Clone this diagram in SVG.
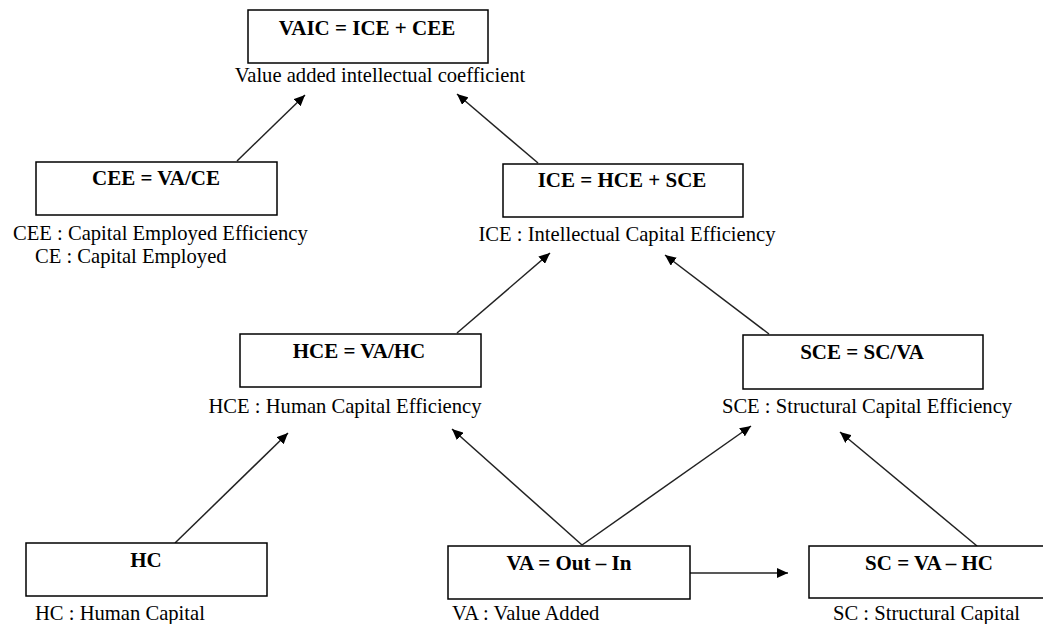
<svg xmlns="http://www.w3.org/2000/svg" width="1043" height="624" viewBox="0 0 1043 624">
<style>
.box{fill:#fff;stroke:#000;stroke-width:1.5}
.lbl{font-family:"Liberation Serif","Times New Roman",serif;font-size:21px;font-weight:bold;fill:#000;text-anchor:middle}
.sub{font-family:"Liberation Serif","Times New Roman",serif;font-size:20.6px;fill:#000}
.mid{text-anchor:middle}
.edge{stroke:#222;stroke-width:1.5;fill:none;marker-end:url(#arr)}
</style>
<defs>
<marker id="arr" markerUnits="userSpaceOnUse" markerWidth="12" markerHeight="10" refX="11" refY="5" orient="auto">
<path d="M0,0 L11,5 L0,10 z" fill="#000"/>
</marker>
</defs>
<rect width="1043" height="624" fill="#fff"/>
<g id="connectors">
<line class="edge" x1="237" y1="161" x2="305" y2="95"/>
<line class="edge" x1="538" y1="163" x2="457" y2="94"/>
<line class="edge" x1="457" y1="333" x2="550" y2="253"/>
<line class="edge" x1="769" y1="334" x2="665" y2="255"/>
<line class="edge" x1="175" y1="543" x2="288" y2="433"/>
<line class="edge" x1="582" y1="545" x2="452" y2="429"/>
<line class="edge" x1="582" y1="545" x2="751" y2="426"/>
<line class="edge" x1="977" y1="546" x2="840" y2="432"/>
<line class="edge" x1="690" y1="573" x2="788" y2="573"/>
</g>
<g id="vaic">
<rect class="box" x="248" y="10" width="240" height="53"/>
<text class="lbl" x="367" y="35">VAIC = ICE + CEE</text>
<text class="sub mid" x="380" y="82">Value added intellectual coefficient</text>
</g>
<g id="cee">
<rect class="box" x="36" y="162" width="241" height="53"/>
<text class="lbl" x="156" y="185">CEE = VA/CE</text>
<text class="sub" x="13" y="240">CEE : Capital Employed Efficiency</text>
<text class="sub" x="35" y="263">CE : Capital Employed</text>
</g>
<g id="ice">
<rect class="box" x="503" y="164" width="240" height="53"/>
<text class="lbl" x="622" y="187">ICE = HCE + SCE</text>
<text class="sub mid" x="627" y="241">ICE : Intellectual Capital Efficiency</text>
</g>
<g id="hce">
<rect class="box" x="240" y="334" width="241" height="53"/>
<text class="lbl" x="359" y="358">HCE = VA/HC</text>
<text class="sub mid" x="345" y="413">HCE : Human Capital Efficiency</text>
</g>
<g id="sce">
<rect class="box" x="743" y="335" width="240" height="54"/>
<text class="lbl" x="862" y="359">SCE = SC/VA</text>
<text class="sub mid" x="867" y="413">SCE : Structural Capital Efficiency</text>
</g>
<g id="hc">
<rect class="box" x="26" y="543" width="241" height="53"/>
<text class="lbl" x="146" y="567">HC</text>
<text class="sub" x="35" y="620">HC : Human Capital</text>
</g>
<g id="va">
<rect class="box" x="448" y="546" width="242" height="53"/>
<text class="lbl" x="569" y="570">VA = Out – In</text>
<text class="sub" x="452" y="620">VA : Value Added</text>
</g>
<g id="sc">
<rect class="box" x="809" y="546" width="241" height="52"/>
<text class="lbl" x="929" y="570">SC = VA – HC</text>
<text class="sub" x="833" y="620">SC : Structural Capital</text>
</g>
</svg>
